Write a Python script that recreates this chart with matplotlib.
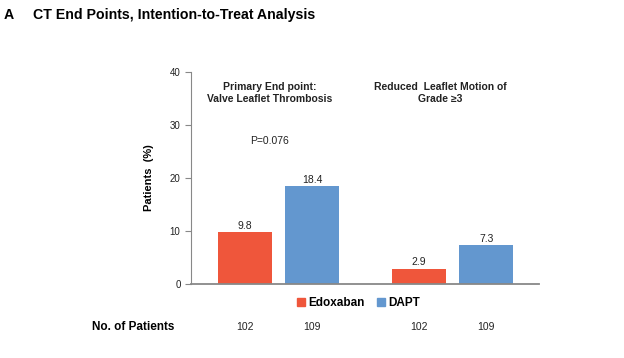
import matplotlib.pyplot as plt
from matplotlib.patches import Patch

plt.rcParams['font.family'] = ['Liberation Sans', 'DejaVu Sans']

groups = ["Primary End point:\nValve Leaflet Thrombosis", "Reduced  Leaflet Motion of\nGrade \u22653"]
edoxaban = [9.8, 2.9]
dapt = [18.4, 7.3]
n_edoxaban = [102, 102]
n_dapt = [109, 109]
red = '#EF563B'
blue = '#6397CF'

centers = [1.62, 4.84]
off = 0.62
w = 1.0

fig = plt.figure(figsize=(6.24, 3.58), dpi=100)
ax = fig.add_axes([0.306, 0.207, 0.558, 0.592])

x_e = [c - off for c in centers]
x_d = [c + off for c in centers]
ax.bar(x_e, edoxaban, width=w, color=red)
ax.bar(x_d, dapt, width=w, color=blue)

for x, v in zip(x_e + x_d, edoxaban + dapt):
    ax.text(x, v + 0.2, f"{v}", ha='center', va='bottom', fontsize=7.5, color='#222222')

label_x = [1.46, 4.61]
for c, g in zip(label_x, groups):
    ax.text(c, 36.0, g, ha='center', va='center', fontsize=7.5, fontweight='bold', color='#222222')
ax.text(label_x[0], 27, "P=0.076", ha='center', va='center', fontsize=7.5, color='#222222')

ax.set_xlim(0, 6.44)
ax.set_ylim(0, 40)
ax.set_yticks([0, 10, 20, 30, 40])
ax.set_xticks([])
ax.tick_params(axis='y', labelsize=7, length=4, color='#888888', labelcolor='#222222')
for s in ['top', 'right']:
    ax.spines[s].set_visible(False)
ax.spines['left'].set_color('#888888')
ax.spines['bottom'].set_color('#888888')
ax.spines['bottom'].set_linewidth(1.3)
ax.set_ylabel("Patients  (%)", fontsize=8, fontweight='bold', labelpad=11)

handles = [Patch(color=red, label='Edoxaban'), Patch(color=blue, label='DAPT')]
fig.legend(handles=handles, loc='center', bbox_to_anchor=(0.5745, 0.1536), ncol=2, frameon=False,
           prop={'weight': 'bold', 'size': 8.5}, handlelength=0.7, handleheight=0.7,
           handletextpad=0.3, columnspacing=1.0)

# patient counts row
fig.text(92 / 624, 1 - 327 / 358, "No. of Patients", fontsize=8.5, fontweight='bold', va='center')
for x, n in zip(x_e + x_d, n_edoxaban + n_dapt):
    fx = fig.transFigure.inverted().transform(ax.transData.transform((x, 0)))[0]
    fig.text(fx, 1 - 327 / 358, str(n), ha='center', va='center', fontsize=7.5, color='#222222')

fig.text(4 / 624, 1 - 15 / 358, "A", fontsize=10.2, fontweight='bold', va='center')
fig.text(33 / 624, 1 - 15 / 358, "CT End Points, Intention-to-Treat Analysis", fontsize=10.2,
         fontweight='bold', va='center')

fig.savefig('out.png', dpi=100)
